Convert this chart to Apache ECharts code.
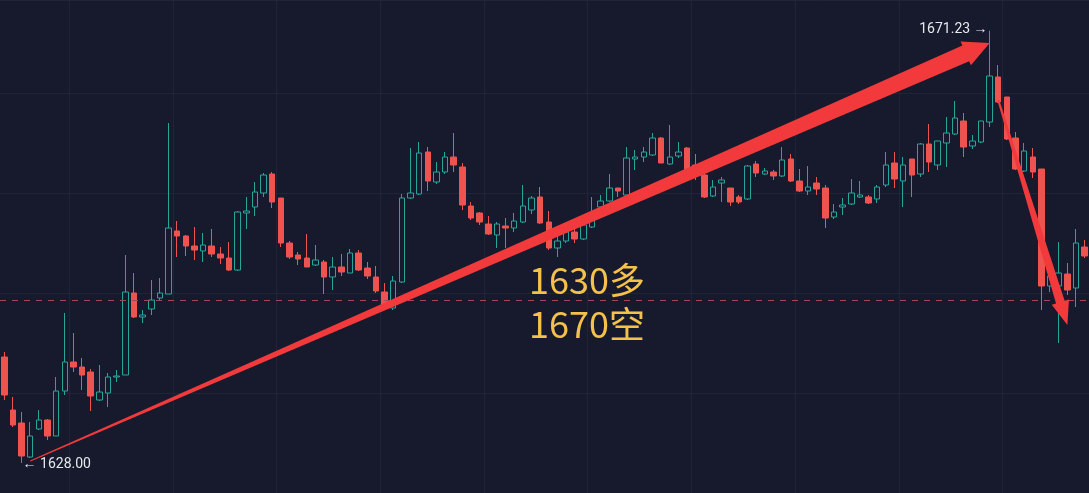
<!DOCTYPE html>
<html>
<head>
<meta charset="utf-8">
<script src="https://cdn.jsdelivr.net/npm/echarts@6/dist/echarts.min.js"></script>
<style>
  html, body { margin: 0; padding: 0; background: #161a2c; }
  #main { width: 1089px; height: 493px; }
</style>
</head>
<body>
<div id="main"></div>
<script>
// K线数据 [open, close, low, high]
const candles = [
    [1638.6, 1634.8, 1634.3, 1639.1],
    [1633.3, 1631.8, 1631.6, 1634.6],
    [1632.0, 1628.7, 1628.0, 1633.1],
    [1628.6, 1630.7, 1628.5, 1632.1],
    [1631.4, 1632.3, 1631.3, 1633.3],
    [1632.3, 1630.7, 1630.3, 1632.4],
    [1630.7, 1635.2, 1630.7, 1636.6],
    [1635.2, 1638.1, 1634.8, 1643.0],
    [1638.1, 1637.6, 1637.1, 1641.0],
    [1637.6, 1636.8, 1635.3, 1638.5],
    [1637.1, 1634.7, 1633.2, 1637.4],
    [1634.3, 1635.1, 1634.2, 1637.8],
    [1635.0, 1636.6, 1633.6, 1637.0],
    [1636.6, 1636.7, 1636.1, 1637.3],
    [1636.8, 1645.1, 1636.8, 1648.8],
    [1645.0, 1642.6, 1642.5, 1647.0],
    [1642.6, 1642.8, 1642.0, 1643.3],
    [1643.4, 1644.3, 1642.8, 1646.3],
    [1644.5, 1645.0, 1644.3, 1646.5],
    [1644.9, 1651.5, 1644.9, 1662.0],
    [1651.2, 1650.7, 1648.6, 1652.2],
    [1650.7, 1649.7, 1648.7, 1650.8],
    [1649.7, 1649.3, 1648.3, 1651.6],
    [1649.2, 1649.8, 1648.1, 1651.0],
    [1649.7, 1648.9, 1648.6, 1651.4],
    [1648.9, 1648.5, 1647.9, 1649.6],
    [1648.5, 1647.3, 1647.2, 1650.1],
    [1647.3, 1653.1, 1647.2, 1653.2],
    [1653.0, 1653.2, 1651.4, 1654.6],
    [1653.6, 1655.1, 1652.7, 1656.1],
    [1655.0, 1656.8, 1654.6, 1657.0],
    [1656.9, 1654.1, 1653.5, 1657.1],
    [1654.5, 1650.0, 1649.6, 1654.5],
    [1650.0, 1648.6, 1648.4, 1650.2],
    [1648.8, 1648.4, 1647.8, 1649.1],
    [1648.5, 1647.6, 1647.6, 1650.9],
    [1647.8, 1648.3, 1647.7, 1649.8],
    [1648.1, 1646.6, 1644.9, 1648.3],
    [1646.6, 1647.6, 1645.3, 1648.6],
    [1647.6, 1647.1, 1646.7, 1648.9],
    [1647.0, 1649.0, 1647.0, 1649.4],
    [1649.0, 1647.3, 1647.2, 1649.3],
    [1647.5, 1646.7, 1646.4, 1648.1],
    [1646.6, 1645.2, 1645.0, 1647.7],
    [1645.1, 1643.5, 1643.3, 1646.0],
    [1643.5, 1646.2, 1643.3, 1646.7],
    [1646.1, 1654.5, 1646.0, 1654.9],
    [1654.5, 1655.0, 1654.4, 1659.5],
    [1654.9, 1659.0, 1654.8, 1660.1],
    [1659.1, 1656.2, 1655.2, 1659.6],
    [1656.1, 1657.1, 1655.9, 1658.1],
    [1657.1, 1658.6, 1656.9, 1659.1],
    [1658.6, 1657.8, 1657.1, 1661.0],
    [1657.6, 1653.8, 1653.3, 1658.0],
    [1653.7, 1652.5, 1652.3, 1654.1],
    [1653.0, 1652.1, 1651.8, 1653.1],
    [1651.9, 1650.9, 1650.8, 1652.7],
    [1650.8, 1651.9, 1649.5, 1652.1],
    [1651.7, 1651.5, 1649.5, 1652.5],
    [1651.5, 1652.2, 1651.1, 1653.0],
    [1652.1, 1653.7, 1652.0, 1655.8],
    [1653.3, 1654.5, 1652.9, 1654.7],
    [1654.6, 1652.0, 1651.9, 1655.6],
    [1652.1, 1649.5, 1649.3, 1653.2],
    [1649.5, 1650.2, 1648.6, 1651.2],
    [1650.2, 1651.1, 1650.0, 1651.8],
    [1651.1, 1650.4, 1650.0, 1651.4],
    [1650.4, 1651.8, 1650.3, 1652.1],
    [1651.6, 1652.5, 1651.5, 1654.6],
    [1653.6, 1654.2, 1652.8, 1654.8],
    [1654.2, 1655.5, 1654.1, 1656.9],
    [1655.5, 1655.2, 1654.6, 1655.5],
    [1654.8, 1658.5, 1654.7, 1659.6],
    [1658.4, 1658.6, 1657.3, 1659.3],
    [1658.6, 1659.1, 1658.1, 1659.6],
    [1658.8, 1660.5, 1658.7, 1661.0],
    [1660.5, 1658.0, 1658.0, 1660.6],
    [1657.9, 1658.6, 1657.8, 1661.8],
    [1658.7, 1659.1, 1658.5, 1660.1],
    [1659.5, 1657.3, 1657.1, 1659.6],
    [1657.8, 1657.1, 1656.3, 1658.9],
    [1656.8, 1654.6, 1654.5, 1657.3],
    [1654.7, 1655.6, 1654.6, 1656.3],
    [1656.0, 1656.3, 1654.1, 1656.6],
    [1655.5, 1654.1, 1653.7, 1655.5],
    [1654.6, 1654.1, 1653.9, 1654.8],
    [1654.4, 1657.7, 1654.3, 1657.8],
    [1657.9, 1657.0, 1656.6, 1658.2],
    [1656.9, 1657.2, 1656.8, 1657.5],
    [1657.1, 1656.7, 1656.3, 1657.3],
    [1656.7, 1658.3, 1656.6, 1659.6],
    [1658.4, 1656.2, 1656.1, 1658.9],
    [1656.2, 1655.2, 1655.1, 1657.4],
    [1655.2, 1655.6, 1654.8, 1657.7],
    [1656.0, 1655.4, 1654.8, 1656.6],
    [1655.5, 1652.5, 1651.5, 1655.8],
    [1652.6, 1653.1, 1652.4, 1653.9],
    [1653.6, 1653.8, 1652.8, 1654.5],
    [1653.9, 1655.0, 1653.8, 1656.4],
    [1654.6, 1654.8, 1654.5, 1656.2],
    [1654.6, 1654.0, 1653.9, 1654.8],
    [1654.4, 1655.6, 1654.0, 1655.8],
    [1655.8, 1657.8, 1655.6, 1659.1],
    [1658.0, 1656.4, 1655.5, 1659.1],
    [1656.2, 1657.8, 1653.6, 1658.6],
    [1658.4, 1656.8, 1654.6, 1658.4],
    [1656.9, 1659.9, 1656.6, 1660.0],
    [1659.9, 1658.1, 1657.1, 1661.9],
    [1657.8, 1660.2, 1657.3, 1660.2],
    [1660.0, 1661.0, 1657.6, 1662.6],
    [1660.9, 1662.5, 1660.8, 1664.2],
    [1662.2, 1659.6, 1658.6, 1663.0],
    [1659.7, 1660.2, 1659.4, 1660.8],
    [1660.1, 1662.2, 1660.0, 1662.2],
    [1662.1, 1666.7, 1661.6, 1671.23],
    [1666.6, 1664.1, 1664.0, 1667.8],
    [1664.6, 1660.4, 1660.3, 1664.6],
    [1660.5, 1657.4, 1657.3, 1661.1],
    [1657.2, 1659.2, 1657.1, 1660.0],
    [1658.6, 1657.1, 1656.5, 1659.5],
    [1657.4, 1645.7, 1643.3, 1657.4],
    [1645.7, 1646.7, 1645.1, 1648.1],
    [1645.7, 1647.0, 1640.0, 1650.1],
    [1646.9, 1645.3, 1644.8, 1648.0],
    [1645.5, 1650.0, 1643.6, 1651.4],
    [1649.6, 1648.7, 1648.5, 1650.3]
];
const categories = candles.map((_, i) => 'k' + i);

// 参考线 / 标注
const dashLevel = 1644.3;
const lowMark = [2, 1628.00];
const highMark = [114, 1671.23];
const noteLines = ['1630多', '1670空'];
// 箭头 [起点, 终点]，[类目序号, 价格]
const trendArrow = [[2.6, 1628.2], [113.5, 1670.0]];
const dropArrow = [[115.4, 1664.3], [122.8, 1641.8]];

const bgColor = '#161a2c';
const gridColor = '#1f2437';
const upColor = '#26a69a';
const downColor = '#ef5350';
const arrowColor = '#f23a3c';

const chart = echarts.init(document.getElementById('main'));

chart.setOption({
    backgroundColor: bgColor,
    animation: false,
    grid: { left: -7, right: -5, top: 0, bottom: 0 },
    xAxis: {
        type: 'category',
        data: categories,
        boundaryGap: true,
        axisLine: { show: false },
        axisTick: { show: false },
        axisLabel: { show: false },
        splitLine: {
            show: true,
            interval: (i) => (i - 8) % 12 === 0,
            lineStyle: { color: gridColor, width: 1 }
        }
    },
    yAxis: {
        type: 'value',
        min: 1625,
        max: 1674.3,
        interval: 10,
        axisLine: { show: false },
        axisTick: { show: false },
        axisLabel: { show: false },
        splitLine: { show: true, lineStyle: { color: gridColor, width: 1 } }
    },
    series: [{
        type: 'candlestick',
        data: candles,
        barWidth: 6,
        itemStyle: {
            color: bgColor,
            color0: downColor,
            borderColor: upColor,
            borderColor0: downColor,
            borderWidth: 1
        },
        markLine: {
            silent: true,
            symbol: 'none',
            label: { show: false },
            lineStyle: { color: '#a4465c', type: [6, 6], width: 1 },
            data: [{ yAxis: dashLevel }]
        }
    }]
});

const toPx = (p) => chart.convertToPixel({ xAxisIndex: 0, yAxisIndex: 0 }, p);

// 渐粗箭头
function arrowPoints(p0, p1, w0, w1, headLen, headW) {
    const dx = p1[0] - p0[0], dy = p1[1] - p0[1];
    const len = Math.hypot(dx, dy);
    const ux = dx / len, uy = dy / len;
    const nx = -uy, ny = ux;
    const bx = p1[0] - ux * headLen, by = p1[1] - uy * headLen;
    return [
        [p0[0] + nx * w0, p0[1] + ny * w0],
        [bx + nx * w1, by + ny * w1],
        [bx + nx * headW, by + ny * headW],
        [p1[0], p1[1]],
        [bx - nx * headW, by - ny * headW],
        [bx - nx * w1, by - ny * w1],
        [p0[0] - nx * w0, p0[1] - ny * w0]
    ];
}

const lowPx = toPx(lowMark);
const highPx = toPx(highMark);
const labelFont = '14px Roboto, "Noto Sans", sans-serif';
const noteFont = '36px "Noto Sans CJK SC", "Noto Sans", sans-serif';

chart.setOption({
    graphic: [
        {
            type: 'polygon', z: 100,
            shape: { points: arrowPoints(toPx(trendArrow[0]), toPx(trendArrow[1]), 0.5, 8.5, 26, 13) },
            style: { fill: arrowColor }
        },
        {
            type: 'polygon', z: 100,
            shape: { points: arrowPoints(toPx(dropArrow[0]), toPx(dropArrow[1]), 1, 4.5, 24, 9) },
            style: { fill: arrowColor }
        },
        {
            type: 'text', z: 101,
            x: lowPx[0] + 1, y: lowPx[1] + 1,
            style: { text: '← ' + lowMark[1].toFixed(2), fill: '#e6e8ee', font: labelFont, align: 'left', verticalAlign: 'middle' }
        },
        {
            type: 'text', z: 101,
            x: highPx[0] - 2, y: highPx[1] - 1,
            style: { text: highMark[1].toFixed(2) + ' →', fill: '#e6e8ee', font: labelFont, align: 'right', verticalAlign: 'middle' }
        },
        {
            type: 'text', z: 101,
            x: 529, y: 280,
            style: { text: noteLines[0], fill: '#f4c24a', font: noteFont, align: 'left', verticalAlign: 'middle' }
        },
        {
            type: 'text', z: 101,
            x: 529, y: 324,
            style: { text: noteLines[1], fill: '#f4c24a', font: noteFont, align: 'left', verticalAlign: 'middle' }
        }
    ]
});
</script>
</body>
</html>
